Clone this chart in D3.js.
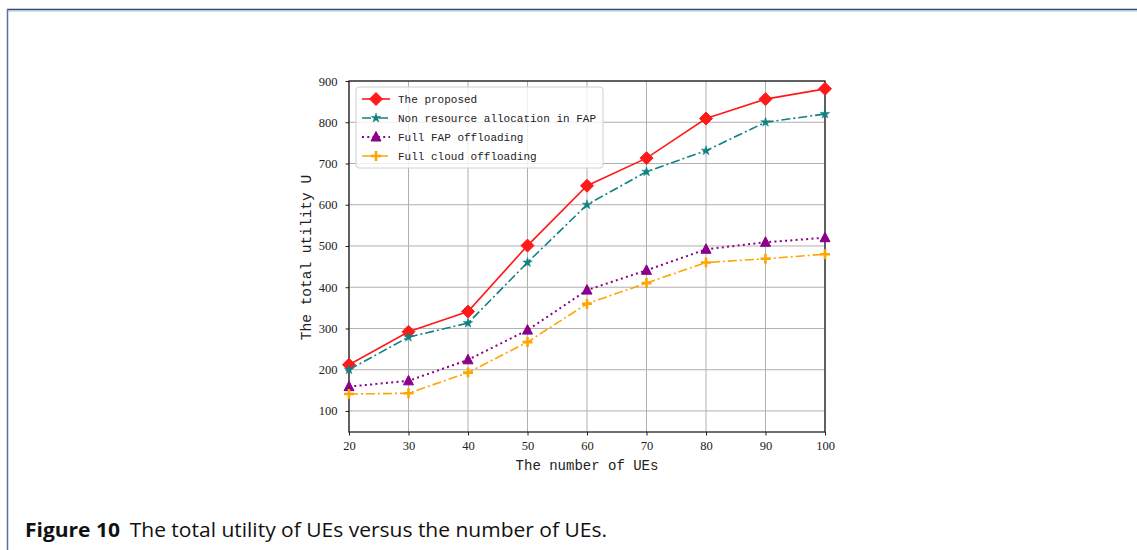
<!DOCTYPE html>
<html><head><meta charset="utf-8">
<script src="https://cdn.jsdelivr.net/npm/d3@7"></script>
<style>body{margin:0;background:#fff;}svg{display:block;}</style>
</head><body>
<svg id="c" width="1137" height="550"></svg>
<script>
const users = [20, 30, 40, 50, 60, 70, 80, 90, 100];
const proposed = [212, 292, 341, 501, 646, 713, 809, 856, 881];
const nonResource = [200, 279, 313, 460, 600, 680, 731, 800, 820];
const fullFAP = [159, 173, 224, 296, 393, 441, 492, 509, 520];
const fullCloud = [141, 143, 193, 267, 360, 410, 460, 469, 480];
const yTicks = [100, 200, 300, 400, 500, 600, 700, 800, 900];
const xTicks = [20, 30, 40, 50, 60, 70, 80, 90, 100];
const seriesNames = ["The proposed", "Non resource allocation in FAP", "Full FAP offloading", "Full cloud offloading"];

const svg = d3.select("#c");
// page frame
svg.append("line").attr("x1",7).attr("x2",1137).attr("y1",9.5).attr("y2",9.5).attr("stroke","#2d4a70").attr("stroke-width",1.5);
svg.append("line").attr("x1",7).attr("x2",1137).attr("y1",11).attr("y2",11).attr("stroke","#a9bfd8").attr("stroke-width",1);
svg.append("line").attr("x1",7.5).attr("x2",7.5).attr("y1",9).attr("y2",550).attr("stroke","#5673a0").attr("stroke-width",1.5);

const L = 349, R = 825, T = 81, B = 432;
const x = d3.scaleLinear().domain([20, 100]).range([L, R]);
const y = d3.scaleLinear().domain([49, 900]).range([B, T]);

const g = svg.append("g");
// grid
g.append("g").selectAll("line").data(xTicks).join("line")
  .attr("x1", d => x(d)).attr("x2", d => x(d)).attr("y1", T).attr("y2", B)
  .attr("stroke", "#b0b0b0").attr("stroke-width", 1);
g.append("g").selectAll("line").data(yTicks).join("line")
  .attr("x1", L).attr("x2", R).attr("y1", d => y(d)).attr("y2", d => y(d))
  .attr("stroke", "#b0b0b0").attr("stroke-width", 1);

// axes
const xAxis = d3.axisBottom(x).tickValues(xTicks).tickSize(3.5).tickPadding(6).tickFormat(d3.format("d"));
const yAxis = d3.axisLeft(y).tickValues(yTicks).tickSize(3.5).tickPadding(8).tickFormat(d3.format("d"));
const gx = g.append("g").attr("transform", `translate(0,${B})`).call(xAxis);
const gy = g.append("g").attr("transform", `translate(${L},0)`).call(yAxis);
[gx, gy].forEach(a => {
  a.select(".domain").remove();
  a.selectAll("text").attr("font-family", "Liberation Serif, serif").attr("font-size", 12.5).attr("fill", "#222");
  a.selectAll(".tick line").attr("stroke", "#222");
});
// spines
g.append("rect").attr("x", L).attr("y", T).attr("width", R - L).attr("height", B - T)
  .attr("fill", "none").attr("stroke", "#111").attr("stroke-width", 1.2);

const styles = [
  {data: proposed, color: "#ff1a1a", dash: null, width: 1.6, marker: "diamond"},
  {data: nonResource, color: "#108080", dash: "9,3,2,3", width: 1.6, marker: "star"},
  {data: fullFAP, color: "#8b008b", dash: "2,3.3", width: 2, marker: "triangle"},
  {data: fullCloud, color: "#ffa500", dash: "9,3,2,3", width: 1.6, marker: "plus"}
];

function drawMarker(sel, type, color) {
  if (type === "diamond") {
    sel.append("path").attr("d", "M0,-6.5L6.5,0L0,6.5L-6.5,0Z").attr("fill", color).attr("stroke", color);
  } else if (type === "star") {
    sel.append("path").attr("d", d3.symbol(d3.symbolStar, 28)()).attr("fill", color).attr("stroke", color).attr("stroke-width", 0.5);
  } else if (type === "triangle") {
    sel.append("path").attr("d", "M0,-5.5L5,4L-5,4Z").attr("fill", color).attr("stroke", color);
  } else if (type === "plus") {
    sel.append("path").attr("d", "M-5,0H5M0,-5V5").attr("fill", "none").attr("stroke", color).attr("stroke-width", 2.6);
  }
}

styles.forEach(s => {
  const line = d3.line().x((d, i) => x(users[i])).y(d => y(d));
  g.append("path").datum(s.data).attr("d", line).attr("fill", "none")
    .attr("stroke", s.color).attr("stroke-width", s.width)
    .attr("stroke-dasharray", s.dash);
  g.append("g").selectAll("g").data(s.data).join("g")
    .attr("transform", (d, i) => `translate(${x(users[i])},${y(d)})`)
    .each(function() { drawMarker(d3.select(this), s.marker, s.color); });
});

// legend
const lg = svg.append("g");
lg.append("rect").attr("x", 356).attr("y", 87).attr("width", 247).attr("height", 81).attr("rx", 3)
  .attr("fill", "rgba(255,255,255,0.8)").attr("stroke", "#d0d0d0");
styles.forEach((s, i) => {
  const yy = 99 + i * 19;
  lg.append("line").attr("x1", 362).attr("x2", 390).attr("y1", yy).attr("y2", yy)
    .attr("stroke", s.color).attr("stroke-width", s.width).attr("stroke-dasharray", s.dash);
  const m = lg.append("g").attr("transform", `translate(376,${yy})`);
  drawMarker(m, s.marker, s.color);
  lg.append("text").attr("x", 398).attr("y", yy + 4).text(seriesNames[i])
    .attr("font-family", "Liberation Mono, monospace").attr("font-size", 11).attr("fill", "#222");
});

// axis labels
svg.append("text").attr("x", (L + R) / 2).attr("y", 470).attr("text-anchor", "middle")
  .attr("font-family", "Liberation Mono, monospace").attr("font-size", 14).attr("fill", "#222").text("The number of UEs");
svg.append("text").attr("transform", `translate(311,${(T + B) / 2 + 1}) rotate(-90)`).attr("text-anchor", "middle")
  .attr("font-family", "Liberation Mono, monospace").attr("font-size", 14.5).attr("fill", "#222").text("The total utility U");

// caption
const cap = svg.append("text").attr("x", 25).attr("y", 537).attr("font-family", "Open Sans, sans-serif").attr("font-size", 19.5).attr("fill", "#111")
  .attr("textLength", 582).attr("lengthAdjust", "spacingAndGlyphs");
cap.append("tspan").attr("font-weight", "bold").text("Figure 10");
cap.append("tspan").attr("dx", 9).text("The total utility of UEs versus the number of UEs.");
</script>
</body></html>
